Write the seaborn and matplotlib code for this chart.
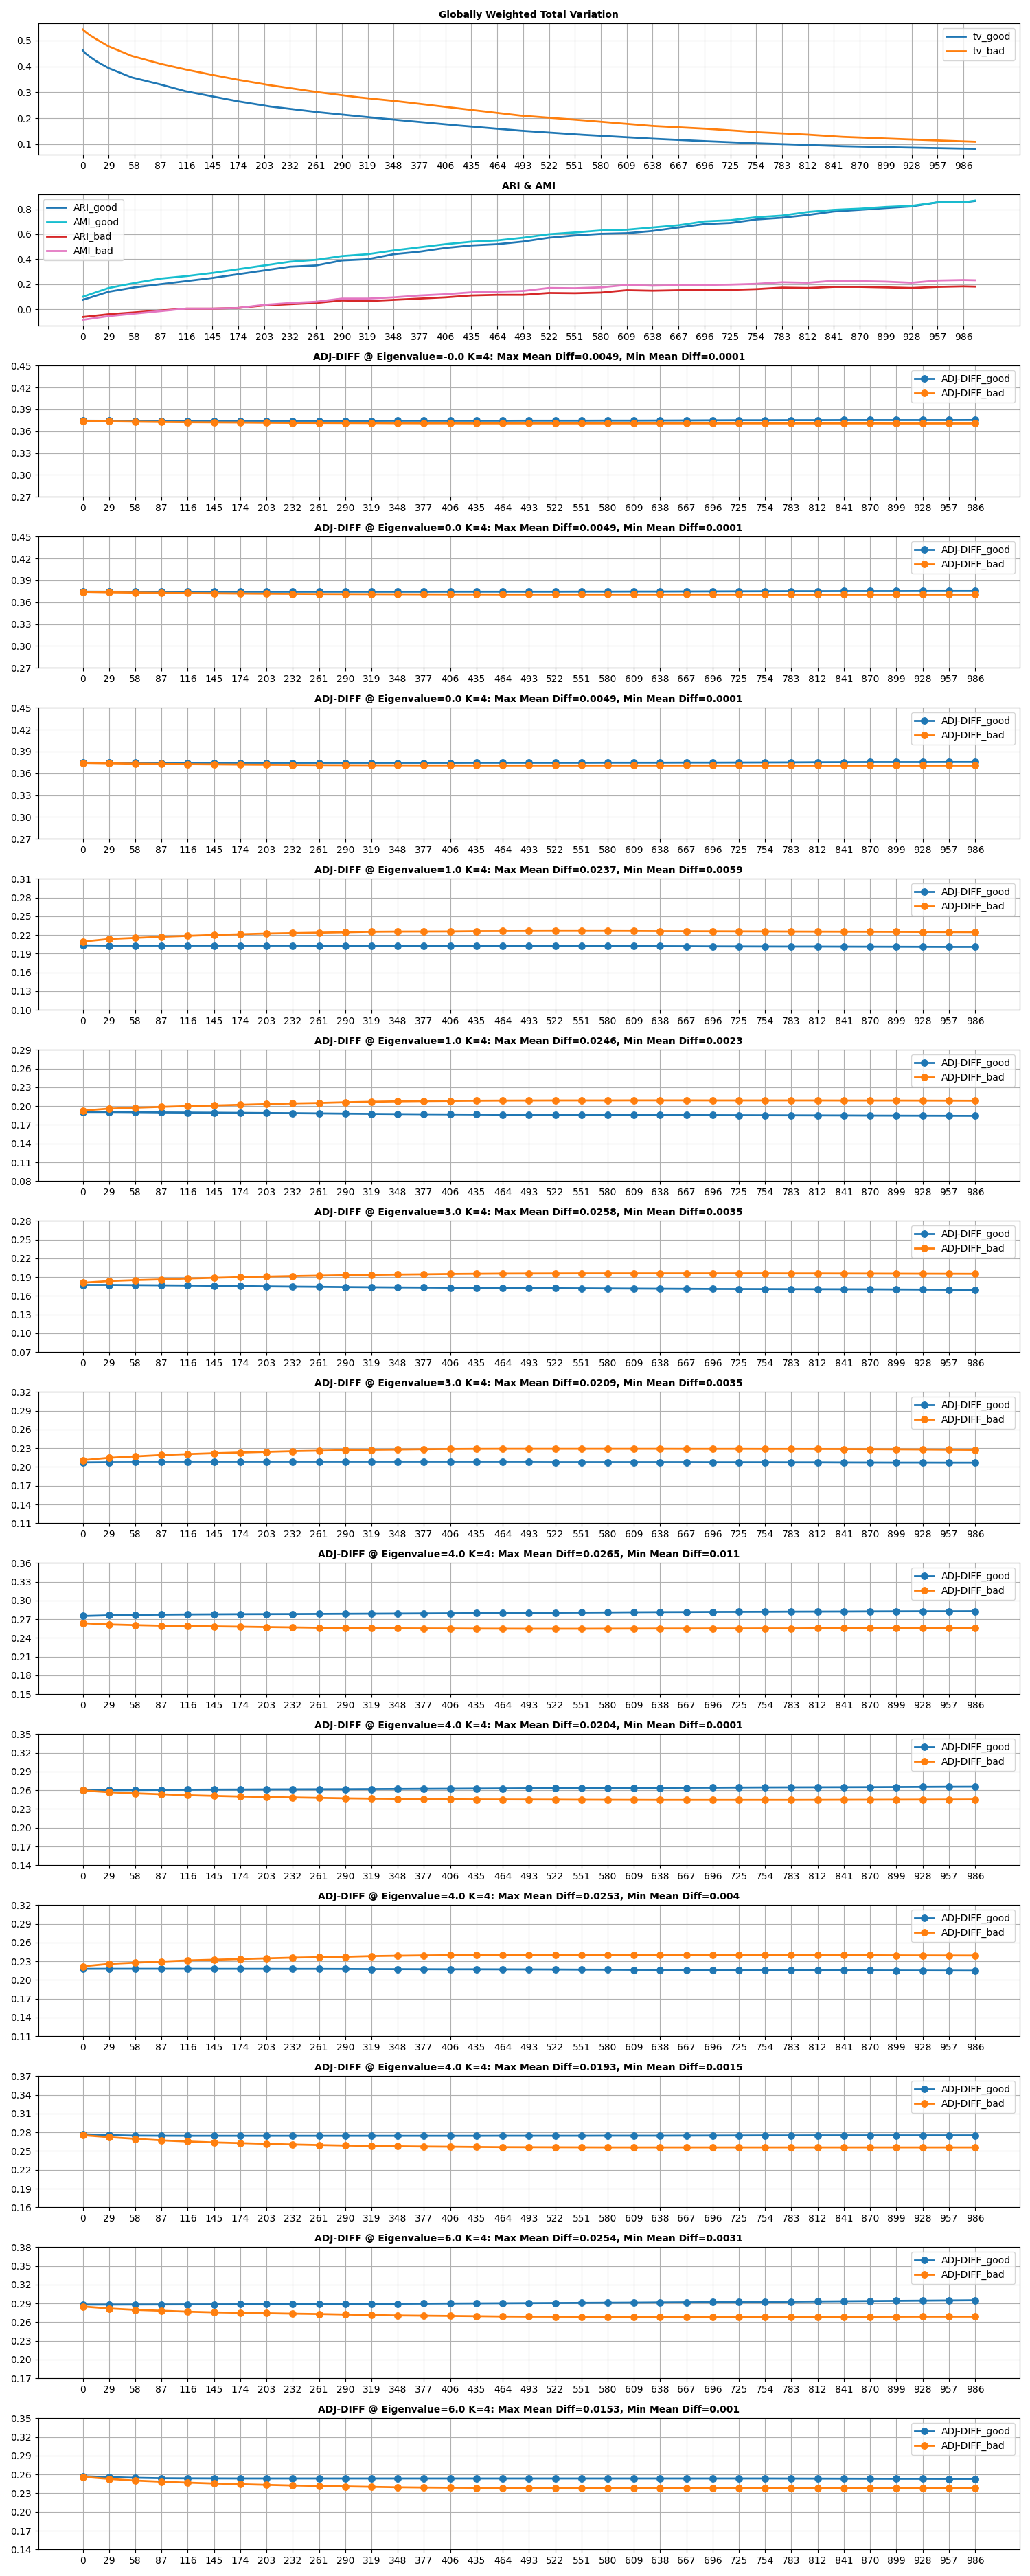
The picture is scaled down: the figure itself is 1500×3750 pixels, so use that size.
import matplotlib
matplotlib.use("Agg")
import matplotlib.pyplot as plt
import numpy as np
import seaborn as sns

# ---- shared x ticks / sample points ----
steps = [0, 29, 58, 87, 116, 145, 174, 203, 232, 261, 290, 319, 348, 377, 406, 435, 464, 493,
         522, 551, 580, 609, 638, 667, 696, 725, 754, 783, 812, 841, 870, 899, 928, 957, 986]

# ---- panel 1: globally weighted total variation ----
tv_x = [0, 3, 8, 15, 29, 55, 87, 115, 145, 174, 210, 264, 310, 353, 420, 490, 560, 638, 700,
        756, 810, 851, 920, 999]
tv_bad = [0.542, 0.533, 0.520, 0.505, 0.477, 0.440, 0.410, 0.388, 0.367, 0.348, 0.327, 0.300,
          0.280, 0.265, 0.238, 0.210, 0.192, 0.170, 0.159, 0.146, 0.137, 0.128, 0.119, 0.109]
tv_good = [0.462, 0.450, 0.437, 0.420, 0.393, 0.357, 0.330, 0.304, 0.284, 0.265, 0.245, 0.223,
           0.207, 0.193, 0.172, 0.152, 0.136, 0.121, 0.111, 0.103, 0.097, 0.092, 0.087, 0.082]

# ---- panel 2: ARI & AMI ----
ari_x = steps + [999]
ari_good = [0.075, 0.140, 0.175, 0.200, 0.225, 0.250, 0.280, 0.310, 0.340, 0.350, 0.390, 0.400,
            0.440, 0.460, 0.490, 0.510, 0.520, 0.541, 0.572, 0.590, 0.603, 0.608, 0.626, 0.654,
            0.681, 0.690, 0.718, 0.732, 0.754, 0.782, 0.795, 0.809, 0.822, 0.855, 0.855, 0.866]
ami_good = [0.100, 0.170, 0.210, 0.245, 0.265, 0.290, 0.320, 0.350, 0.380, 0.395, 0.425, 0.440,
            0.470, 0.495, 0.520, 0.540, 0.550, 0.572, 0.600, 0.614, 0.630, 0.636, 0.654, 0.672,
            0.703, 0.712, 0.736, 0.749, 0.778, 0.795, 0.804, 0.818, 0.827, 0.855, 0.855, 0.869]
ari_bad = [-0.062, -0.040, -0.025, -0.010, 0.005, 0.005, 0.010, 0.030, 0.040, 0.050, 0.070, 0.065,
           0.075, 0.085, 0.095, 0.110, 0.115, 0.115, 0.130, 0.128, 0.133, 0.152, 0.148, 0.152,
           0.155, 0.155, 0.161, 0.173, 0.170, 0.179, 0.179, 0.175, 0.170, 0.179, 0.183, 0.181]
ami_bad = [-0.085, -0.055, -0.035, -0.015, 0.005, 0.005, 0.010, 0.035, 0.050, 0.060, 0.085, 0.085,
           0.095, 0.110, 0.120, 0.135, 0.140, 0.146, 0.170, 0.168, 0.175, 0.194, 0.188, 0.192,
           0.194, 0.197, 0.203, 0.216, 0.212, 0.228, 0.225, 0.221, 0.212, 0.230, 0.234, 0.232]

# ---- ADJ-DIFF panels ----
eig_labels = ["-0.0", "0.0", "0.0", "1.0", "1.0", "3.0", "3.0", "4.0", "4.0", "4.0", "4.0", "6.0", "6.0"]
max_diffs = ["0.0049", "0.0049", "0.0049", "0.0237", "0.0246", "0.0258", "0.0209", "0.0265",
             "0.0204", "0.0253", "0.0193", "0.0254", "0.0153"]
min_diffs = ["0.0001", "0.0001", "0.0001", "0.0059", "0.0023", "0.0035", "0.0035", "0.011",
             "0.0001", "0.004", "0.0015", "0.0031", "0.001"]
y_lo = [0.27, 0.27, 0.27, 0.10, 0.08, 0.07, 0.11, 0.15, 0.14, 0.11, 0.16, 0.17, 0.14]
y_hi = [0.45, 0.45, 0.45, 0.31, 0.29, 0.28, 0.32, 0.36, 0.35, 0.32, 0.37, 0.38, 0.35]

adj_good = [
    [0.3746, 0.3745, 0.3744, 0.3744, 0.3744, 0.3744, 0.3744, 0.3744, 0.3744, 0.3744, 0.3744, 0.3744,
     0.3745, 0.3745, 0.3745, 0.3745, 0.3745, 0.3746, 0.3746, 0.3746, 0.3747, 0.3747, 0.3748, 0.3749,
     0.3751, 0.3752, 0.3752, 0.3753, 0.3753, 0.3754, 0.3754, 0.3754, 0.3754, 0.3754, 0.3755],
    [0.3747, 0.3746, 0.3745, 0.3745, 0.3745, 0.3745, 0.3745, 0.3745, 0.3745, 0.3745, 0.3745, 0.3745,
     0.3745, 0.3745, 0.3746, 0.3746, 0.3746, 0.3746, 0.3746, 0.3747, 0.3747, 0.3748, 0.3748, 0.3749,
     0.3750, 0.3751, 0.3752, 0.3753, 0.3753, 0.3754, 0.3754, 0.3754, 0.3755, 0.3755, 0.3755],
    [0.3746, 0.3745, 0.3745, 0.3744, 0.3744, 0.3744, 0.3744, 0.3744, 0.3744, 0.3744, 0.3744, 0.3744,
     0.3744, 0.3744, 0.3744, 0.3745, 0.3745, 0.3745, 0.3745, 0.3745, 0.3746, 0.3746, 0.3746, 0.3747,
     0.3747, 0.3748, 0.3749, 0.3750, 0.3752, 0.3753, 0.3754, 0.3754, 0.3754, 0.3755, 0.3755],
    [0.2035, 0.2031, 0.2031, 0.2031, 0.2031, 0.2031, 0.2031, 0.2031, 0.2031, 0.2030, 0.2030, 0.2030,
     0.2030, 0.2029, 0.2028, 0.2026, 0.2025, 0.2025, 0.2024, 0.2024, 0.2023, 0.2022, 0.2021, 0.2020,
     0.2018, 0.2017, 0.2016, 0.2015, 0.2015, 0.2014, 0.2013, 0.2012, 0.2011, 0.2010, 0.2010],
    [0.1905, 0.1905, 0.1902, 0.1898, 0.1896, 0.1894, 0.1891, 0.1888, 0.1886, 0.1882, 0.1878, 0.1875,
     0.1872, 0.1869, 0.1867, 0.1865, 0.1862, 0.1860, 0.1859, 0.1858, 0.1857, 0.1856, 0.1855, 0.1855,
     0.1854, 0.1853, 0.1852, 0.1851, 0.1850, 0.1849, 0.1847, 0.1846, 0.1845, 0.1844, 0.1843],
    [0.1775, 0.1775, 0.1772, 0.1769, 0.1766, 0.1762, 0.1757, 0.1752, 0.1748, 0.1745, 0.1741, 0.1738,
     0.1735, 0.1733, 0.1730, 0.1728, 0.1726, 0.1724, 0.1722, 0.1720, 0.1718, 0.1716, 0.1714, 0.1712,
     0.1710, 0.1709, 0.1708, 0.1707, 0.1706, 0.1705, 0.1704, 0.1702, 0.1700, 0.1698, 0.1696],
    [0.2073, 0.2076, 0.2077, 0.2077, 0.2077, 0.2077, 0.2077, 0.2077, 0.2077, 0.2077, 0.2077, 0.2077,
     0.2077, 0.2077, 0.2077, 0.2077, 0.2077, 0.2077, 0.2076, 0.2076, 0.2076, 0.2076, 0.2076, 0.2076,
     0.2075, 0.2075, 0.2075, 0.2074, 0.2074, 0.2072, 0.2071, 0.2070, 0.2070, 0.2069, 0.2069],
    [0.2752, 0.2763, 0.2770, 0.2774, 0.2777, 0.2779, 0.2781, 0.2782, 0.2783, 0.2785, 0.2787, 0.2789,
     0.2791, 0.2793, 0.2795, 0.2798, 0.2800, 0.2802, 0.2805, 0.2807, 0.2809, 0.2812, 0.2814, 0.2815,
     0.2817, 0.2818, 0.2819, 0.2821, 0.2822, 0.2823, 0.2825, 0.2826, 0.2827, 0.2827, 0.2828],
    [0.2598, 0.2601, 0.2604, 0.2606, 0.2608, 0.2610, 0.2611, 0.2613, 0.2614, 0.2615, 0.2616, 0.2618,
     0.2620, 0.2622, 0.2624, 0.2626, 0.2628, 0.2630, 0.2631, 0.2633, 0.2635, 0.2637, 0.2638, 0.2640,
     0.2641, 0.2643, 0.2645, 0.2646, 0.2647, 0.2648, 0.2649, 0.2651, 0.2653, 0.2655, 0.2656],
    [0.2179, 0.2180, 0.2180, 0.2180, 0.2180, 0.2179, 0.2179, 0.2179, 0.2178, 0.2178, 0.2177, 0.2175,
     0.2174, 0.2173, 0.2172, 0.2172, 0.2171, 0.2170, 0.2169, 0.2167, 0.2166, 0.2164, 0.2163, 0.2162,
     0.2161, 0.2160, 0.2159, 0.2158, 0.2157, 0.2156, 0.2154, 0.2153, 0.2152, 0.2151, 0.2150],
    [0.2770, 0.2756, 0.2748, 0.2746, 0.2745, 0.2745, 0.2745, 0.2745, 0.2745, 0.2745, 0.2745, 0.2745,
     0.2745, 0.2745, 0.2745, 0.2745, 0.2746, 0.2746, 0.2746, 0.2746, 0.2747, 0.2747, 0.2747, 0.2748,
     0.2749, 0.2750, 0.2751, 0.2751, 0.2752, 0.2752, 0.2752, 0.2752, 0.2752, 0.2752, 0.2752],
    [0.2881, 0.2881, 0.2882, 0.2883, 0.2884, 0.2885, 0.2886, 0.2888, 0.2889, 0.2890, 0.2891, 0.2893,
     0.2895, 0.2897, 0.2899, 0.2901, 0.2903, 0.2905, 0.2907, 0.2909, 0.2911, 0.2913, 0.2916, 0.2918,
     0.2921, 0.2923, 0.2926, 0.2929, 0.2932, 0.2935, 0.2938, 0.2941, 0.2944, 0.2947, 0.2950],
    [0.2572, 0.2558, 0.2547, 0.2540, 0.2538, 0.2537, 0.2536, 0.2536, 0.2536, 0.2536, 0.2536, 0.2536,
     0.2536, 0.2536, 0.2536, 0.2536, 0.2536, 0.2536, 0.2536, 0.2536, 0.2536, 0.2536, 0.2536, 0.2536,
     0.2536, 0.2536, 0.2536, 0.2535, 0.2534, 0.2533, 0.2532, 0.2531, 0.2531, 0.2530, 0.2530],
]
adj_bad = [
    [0.3742, 0.3735, 0.3731, 0.3727, 0.3724, 0.3722, 0.3720, 0.3717, 0.3715, 0.3714, 0.3713, 0.3712,
     0.3710, 0.3709, 0.3709, 0.3708, 0.3708, 0.3708, 0.3708, 0.3708, 0.3708, 0.3708, 0.3708, 0.3708,
     0.3708, 0.3708, 0.3708, 0.3708, 0.3708, 0.3708, 0.3708, 0.3707, 0.3707, 0.3707, 0.3707],
    [0.3744, 0.3737, 0.3733, 0.3729, 0.3726, 0.3723, 0.3720, 0.3718, 0.3716, 0.3714, 0.3713, 0.3712,
     0.3711, 0.3710, 0.3709, 0.3709, 0.3708, 0.3708, 0.3708, 0.3708, 0.3708, 0.3708, 0.3708, 0.3708,
     0.3708, 0.3708, 0.3707, 0.3707, 0.3707, 0.3707, 0.3707, 0.3707, 0.3707, 0.3707, 0.3707],
    [0.3743, 0.3737, 0.3732, 0.3728, 0.3725, 0.3722, 0.3719, 0.3717, 0.3715, 0.3713, 0.3712, 0.3711,
     0.3710, 0.3709, 0.3709, 0.3708, 0.3708, 0.3708, 0.3708, 0.3708, 0.3708, 0.3708, 0.3708, 0.3708,
     0.3708, 0.3707, 0.3707, 0.3707, 0.3707, 0.3707, 0.3707, 0.3707, 0.3707, 0.3707, 0.3707],
    [0.2094, 0.2136, 0.2154, 0.2172, 0.2187, 0.2202, 0.2213, 0.2224, 0.2231, 0.2238, 0.2245, 0.2253,
     0.2256, 0.2257, 0.2258, 0.2262, 0.2263, 0.2264, 0.2265, 0.2265, 0.2265, 0.2264, 0.2262, 0.2261,
     0.2260, 0.2259, 0.2258, 0.2256, 0.2255, 0.2254, 0.2253, 0.2252, 0.2250, 0.2248, 0.2247],
    [0.1928, 0.1959, 0.1974, 0.1988, 0.2000, 0.2010, 0.2021, 0.2032, 0.2043, 0.2050, 0.2061, 0.2069,
     0.2076, 0.2080, 0.2083, 0.2086, 0.2088, 0.2089, 0.2090, 0.2090, 0.2090, 0.2091, 0.2091, 0.2091,
     0.2090, 0.2090, 0.2090, 0.2090, 0.2090, 0.2089, 0.2089, 0.2089, 0.2088, 0.2087, 0.2086],
    [0.1810, 0.1837, 0.1852, 0.1863, 0.1878, 0.1889, 0.1900, 0.1910, 0.1918, 0.1925, 0.1932, 0.1938,
     0.1943, 0.1947, 0.1952, 0.1955, 0.1958, 0.1959, 0.1960, 0.1961, 0.1961, 0.1961, 0.1961, 0.1961,
     0.1961, 0.1961, 0.1961, 0.1960, 0.1960, 0.1959, 0.1958, 0.1957, 0.1956, 0.1955, 0.1954],
    [0.2108, 0.2146, 0.2168, 0.2190, 0.2205, 0.2219, 0.2230, 0.2241, 0.2252, 0.2259, 0.2268, 0.2274,
     0.2278, 0.2283, 0.2286, 0.2288, 0.2289, 0.2289, 0.2289, 0.2289, 0.2289, 0.2289, 0.2289, 0.2288,
     0.2288, 0.2288, 0.2287, 0.2287, 0.2286, 0.2285, 0.2283, 0.2281, 0.2279, 0.2276, 0.2273],
    [0.2637, 0.2617, 0.2606, 0.2597, 0.2592, 0.2586, 0.2581, 0.2575, 0.2570, 0.2564, 0.2558, 0.2555,
     0.2554, 0.2553, 0.2552, 0.2550, 0.2549, 0.2548, 0.2548, 0.2548, 0.2549, 0.2550, 0.2551, 0.2551,
     0.2552, 0.2552, 0.2553, 0.2553, 0.2555, 0.2557, 0.2558, 0.2559, 0.2560, 0.2561, 0.2562],
    [0.2597, 0.2569, 0.2551, 0.2536, 0.2521, 0.2510, 0.2500, 0.2492, 0.2485, 0.2478, 0.2471, 0.2466,
     0.2463, 0.2459, 0.2456, 0.2453, 0.2452, 0.2451, 0.2450, 0.2448, 0.2447, 0.2446, 0.2445, 0.2445,
     0.2445, 0.2445, 0.2445, 0.2445, 0.2446, 0.2447, 0.2448, 0.2449, 0.2450, 0.2451, 0.2452],
    [0.2219, 0.2259, 0.2278, 0.2296, 0.2314, 0.2325, 0.2336, 0.2347, 0.2358, 0.2365, 0.2372, 0.2383,
     0.2389, 0.2394, 0.2398, 0.2402, 0.2404, 0.2405, 0.2405, 0.2405, 0.2405, 0.2405, 0.2405, 0.2405,
     0.2404, 0.2404, 0.2403, 0.2401, 0.2399, 0.2398, 0.2397, 0.2395, 0.2394, 0.2393, 0.2392],
    [0.2755, 0.2723, 0.2697, 0.2672, 0.2654, 0.2639, 0.2628, 0.2617, 0.2606, 0.2597, 0.2589, 0.2582,
     0.2577, 0.2573, 0.2570, 0.2566, 0.2563, 0.2562, 0.2561, 0.2560, 0.2559, 0.2559, 0.2559, 0.2559,
     0.2559, 0.2559, 0.2559, 0.2559, 0.2559, 0.2559, 0.2559, 0.2559, 0.2559, 0.2559, 0.2559],
    [0.2850, 0.2819, 0.2797, 0.2783, 0.2768, 0.2757, 0.2750, 0.2743, 0.2736, 0.2730, 0.2722, 0.2714,
     0.2707, 0.2703, 0.2699, 0.2695, 0.2690, 0.2688, 0.2687, 0.2686, 0.2685, 0.2683, 0.2682, 0.2681,
     0.2681, 0.2681, 0.2682, 0.2683, 0.2684, 0.2685, 0.2686, 0.2687, 0.2688, 0.2688, 0.2688],
    [0.2562, 0.2529, 0.2503, 0.2485, 0.2470, 0.2456, 0.2445, 0.2434, 0.2424, 0.2416, 0.2409, 0.2402,
     0.2395, 0.2391, 0.2388, 0.2386, 0.2384, 0.2383, 0.2382, 0.2382, 0.2382, 0.2382, 0.2382, 0.2382,
     0.2382, 0.2382, 0.2382, 0.2382, 0.2382, 0.2382, 0.2382, 0.2382, 0.2382, 0.2382, 0.2382],
]

BLUE, ORANGE = "#1f77b4", "#ff7f0e"

fig, axes = plt.subplots(15, 1, figsize=(15, 37.5), dpi=100)

# panel 1
ax = axes[0]
sns.lineplot(x=tv_x, y=tv_good, ax=ax, color=BLUE, linewidth=2, label="tv_good")
sns.lineplot(x=tv_x, y=tv_bad, ax=ax, color=ORANGE, linewidth=2, label="tv_bad")
ax.set_xlim(-50, 1049)
ax.set_title("Globally Weighted Total Variation", fontsize=10, fontweight="bold")
ax.legend(loc="upper right")

# panel 2
ax = axes[1]
sns.lineplot(x=ari_x, y=ari_good, ax=ax, color="#1f77b4", linewidth=2, label="ARI_good")
sns.lineplot(x=ari_x, y=ami_good, ax=ax, color="#17becf", linewidth=2, label="AMI_good")
sns.lineplot(x=ari_x, y=ari_bad, ax=ax, color="#d62728", linewidth=2, label="ARI_bad")
sns.lineplot(x=ari_x, y=ami_bad, ax=ax, color="#e377c2", linewidth=2, label="AMI_bad")
ax.set_xlim(-50, 1049)
ax.set_title("ARI & AMI", fontsize=10, fontweight="bold")
ax.legend(loc="upper left")

# ADJ-DIFF panels
for i in range(len(eig_labels)):
    ax = axes[i + 2]
    sns.lineplot(x=steps, y=adj_good[i], ax=ax, color=BLUE, linewidth=2, marker="o",
                 markersize=7, markeredgecolor=BLUE, label="ADJ-DIFF_good")
    sns.lineplot(x=steps, y=adj_bad[i], ax=ax, color=ORANGE, linewidth=2, marker="o",
                 markersize=7, markeredgecolor=ORANGE, label="ADJ-DIFF_bad")
    ticks = np.round(np.arange(y_lo[i], y_hi[i] + 0.001, 0.03), 2)
    ax.set_yticks(ticks)
    ax.set_yticklabels([f"{t:.2f}" for t in ticks])
    ax.set_ylim(y_lo[i], y_hi[i])
    ax.set_title(f"ADJ-DIFF @ Eigenvalue={eig_labels[i]} K=4: Max Mean Diff={max_diffs[i]}, "
                 f"Min Mean Diff={min_diffs[i]}", fontsize=10, fontweight="bold")
    ax.legend(loc="upper right")

for ax in axes:
    ax.set_xticks(steps)
    ax.set_xticklabels([str(s) for s in steps])
    ax.set_xlabel("")
    ax.set_ylabel("")
    ax.grid(True)

plt.tight_layout()
plt.savefig("out.png", dpi=100)
